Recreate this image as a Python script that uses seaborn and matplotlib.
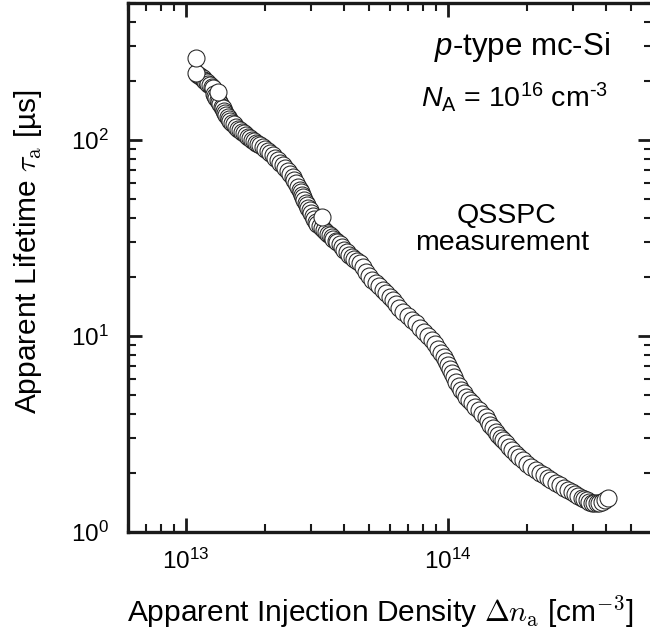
import numpy as np
import pandas as pd
import matplotlib
matplotlib.use("Agg")
import matplotlib.pyplot as plt
import seaborn as sns
from matplotlib.ticker import LogLocator, NullFormatter, FuncFormatter

# Apparent injection density, in units of 1e13 cm^-3
n_e13 = [1.10, 1.11, 1.125, 1.14, 1.155, 1.17, 1.185, 1.20,
         1.215, 1.23, 1.25, 1.27, 1.28, 1.29, 1.305, 1.32, 1.335,
         1.35, 1.365, 1.38, 1.395, 1.41, 1.425, 1.44, 1.455, 1.47, 1.495,
         1.52, 1.55, 1.58, 1.605, 1.63, 1.66, 1.69, 1.72, 1.75, 1.78,
         1.81, 1.845, 1.88, 1.92, 1.96, 2.00, 2.05, 2.09, 2.14, 2.19,
         2.24, 2.29, 2.34, 2.39, 2.44, 2.50, 2.55, 2.59, 2.63, 2.67,
         2.71, 2.74, 2.77, 2.80, 2.83, 2.865, 2.90, 2.93, 2.96, 3.00,
         3.04, 3.08, 3.12, 3.17, 3.23, 3.29, 3.35, 3.41, 3.47,
         3.53, 3.59, 3.65, 3.72, 3.78, 3.85, 3.93, 4.02, 4.11, 4.20,
         4.29, 4.39, 4.49, 4.59, 4.72, 4.85, 5.00, 5.14, 5.30, 5.47,
         5.64, 5.81, 5.98, 6.15, 6.33, 6.51, 6.75, 7.00, 7.27, 7.55,
         7.82, 8.10, 8.40, 8.69, 8.92, 9.15, 9.40, 9.66, 9.83, 10.0,
         10.17, 10.35, 10.55, 10.75, 10.97, 11.2, 11.45, 11.7, 12.0, 12.3,
         12.7, 13.1, 13.5, 13.9, 14.2, 14.5, 14.85, 15.2, 15.55, 15.9,
         16.25, 16.6, 17.1, 17.6, 18.1, 18.6, 19.3, 20.0, 20.8, 21.6,
         22.4, 23.2, 24.0, 24.8, 25.8, 26.8, 27.8, 28.8, 29.6, 30.5,
         31.4, 32.3, 33.0, 33.8, 34.5, 35.3, 36.1, 37.0, 37.7, 38.5,
         39.7, 40.9,
         # points standing out of the trace
         1.32, 3.29, 1.09, 1.09]
# Apparent lifetime in microseconds
tau_us = [217, 214, 211, 209, 206, 203, 200, 198,
          194, 191, 187, 184, 172, 168, 164, 160, 156,
          152, 148, 145, 141, 138, 134, 131, 128, 125, 122,
          120, 117, 114, 112, 110, 108, 106, 104, 102, 100.3,
          98.8, 97.1, 95.5, 93.8, 92.1, 90.0, 88.0, 85.9, 83.8, 81.4,
          79.0, 76.7, 74.5, 72.0, 69.5, 67.0, 64.7, 62.3, 60.0, 57.8,
          55.6, 54.0, 52.5, 50.9, 49.4, 47.9, 46.5, 45.2, 43.9, 42.4,
          41.0, 39.6, 38.2, 37.3, 36.4, 35.5, 34.7, 34.0, 33.3,
          32.6, 32.0, 31.3, 30.7, 30.1, 29.5, 28.5, 27.6, 26.7, 25.9,
          25.3, 24.7, 24.1, 23.6, 22.4, 21.3, 20.3, 19.3, 18.6, 17.9,
          17.2, 16.6, 15.9, 15.2, 14.5, 13.9, 13.3, 12.7, 12.1, 11.6,
          11.0, 10.5, 10.0, 9.54, 9.05, 8.60, 8.20, 7.81, 7.45, 7.10,
          6.78, 6.48, 6.15, 5.85, 5.57, 5.30, 5.09, 4.90, 4.72, 4.55,
          4.36, 4.18, 4.02, 3.86, 3.69, 3.53, 3.38, 3.24, 3.13, 3.02,
          2.93, 2.84, 2.72, 2.61, 2.51, 2.41, 2.32, 2.23, 2.15, 2.07,
          2.01, 1.95, 1.89, 1.84, 1.78, 1.73, 1.68, 1.64, 1.60, 1.56,
          1.52, 1.49, 1.47, 1.45, 1.43, 1.41, 1.40, 1.41, 1.41, 1.42,
          1.45, 1.49,
          176, 40.5, 220, 262]

sns.set_style("ticks")
plt.rcParams['font.family'] = ['Liberation Sans', 'DejaVu Sans']
plt.rcParams['mathtext.fontset'] = 'custom'
plt.rcParams['mathtext.rm'] = 'Liberation Sans'
plt.rcParams['mathtext.it'] = 'Liberation Sans:italic'
plt.rcParams['mathtext.bf'] = 'Liberation Sans:bold'
plt.rcParams['mathtext.sf'] = 'Liberation Sans'
plt.rcParams['text.color'] = 'black'
plt.rcParams['axes.labelcolor'] = 'black'

fig = plt.figure(figsize=(6.5, 6.35), dpi=100)
ax = fig.add_axes([128/650, 103/635, 524/650, 529/635])

df = pd.DataFrame({'n': np.array(n_e13) * 1e13, 'tau': tau_us})
sns.scatterplot(data=df, x='n', y='tau', ax=ax, s=150, color='white',
                edgecolor='#222222', linewidth=0.75, legend=False, zorder=3)

ax.set_xscale('log')
ax.set_yscale('log')
ax.set_xlim(6e12, 6e14)
ax.set_ylim(1, 500)

fmt = FuncFormatter(lambda v, p: r'$10^{%d}$' % int(round(np.log10(v))))
for axis in (ax.xaxis, ax.yaxis):
    axis.set_major_locator(LogLocator(base=10))
    axis.set_minor_locator(LogLocator(base=10, subs=np.arange(2, 10)))
    axis.set_major_formatter(fmt)
    axis.set_minor_formatter(NullFormatter())

for s in ax.spines.values():
    s.set_linewidth(2.4)
    s.set_color('#1a1a1a')

ax.tick_params(which='both', direction='in', top=True, right=True, colors='#1a1a1a')
ax.tick_params(which='major', length=10, width=2.0, labelsize=17.5, labelcolor='black')
ax.tick_params(axis='x', which='major', pad=12)
ax.tick_params(axis='y', which='major', pad=14)
ax.tick_params(which='minor', length=5.5, width=1.5)

ax.set_xlabel(r'Apparent Injection Density $\Delta n_\mathrm{a}$ [cm$^{-3}$]',
              fontsize=21.5, math_fontfamily='cm', color='black')
ax.set_ylabel(r'Apparent Lifetime $\tau_\mathrm{a}$ [µs]',
              fontsize=21.5, math_fontfamily='cm', color='black')
ax.xaxis.set_label_coords(0.482, -0.116)
ax.yaxis.set_label_coords(-0.160, 0.530)

ax.text(0.920, 0.902, r'$p$-type mc-Si', transform=ax.transAxes,
        ha='right', va='baseline', fontsize=22.5, color='black')
ax.text(0.916, 0.803, r'$N_\mathrm{A}$ = 10$^{16}$ cm$^{\mathrm{\text{-}3}}$',
        transform=ax.transAxes, ha='right', va='baseline', fontsize=20.5,
        color='black')
ax.text(0.723, 0.584, 'QSSPC', transform=ax.transAxes,
        ha='center', va='baseline', fontsize=20.5, color='black')
ax.text(0.714, 0.533, 'measurement', transform=ax.transAxes,
        ha='center', va='baseline', fontsize=20.5, color='black')

fig.savefig('out.png', dpi=100)
